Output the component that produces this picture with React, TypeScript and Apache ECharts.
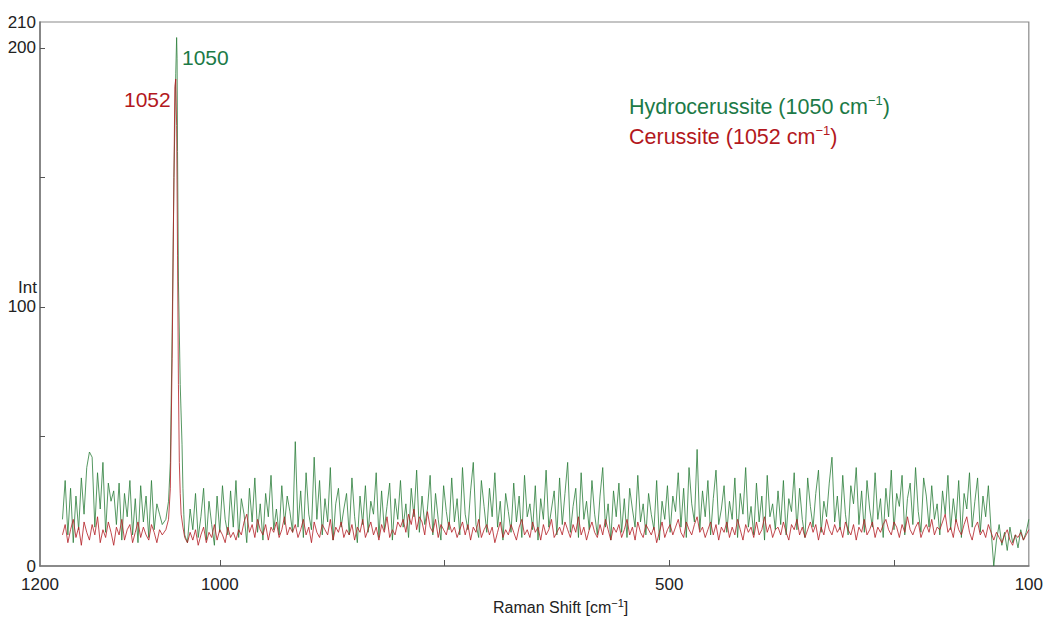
import React, { useEffect, useRef } from "react";
import * as echarts from "echarts";

// x grid for the hand-read noise segments (cm-1)
const leftStart = 1175;
const rightStart = 1039;
const gridStep = 3;

const greenLeft = [18,33,12,30,9,27,14,34,20,38,44,42,15,36,22,40,13,32,25,29,16,32,10,28,19,33,12,26,9,31,17,27,11,33,14,24,20,16];
const redLeft = [12,16,9,14,18,11,15,8,17,13,10,16,12,19,9,14,11,17,13,8,15,12,18,10,14,16,9,13,17,11,15,12,10,16,13,9,14,12];

const greenPeak: [number, number][] = [[1060,18],[1057,25],[1055,40],[1053,90],[1051,150],[1049,190],[1048,204],[1047.5,196],[1047,160],[1046,110],[1044,70],[1042,47],[1041,30],[1040,20]];
const redPeak: [number, number][] = [[1060,14],[1057,18],[1055,30],[1053,80],[1051,150],[1050,185],[1049,188],[1048,170],[1047,120],[1046,70],[1045,40],[1044,28],[1043,20],[1041,15]];

const greenRight = [
  12,9,22,14,28,11,19,30,10,25,16,8,27,13,31,18,12,29,15,33,
  11,26,20,9,30,17,34,13,24,10,28,19,35,14,22,12,31,16,27,21,
  13,48,15,29,11,36,20,14,42,18,33,12,26,17,38,10,24,30,15,22,
  28,12,34,19,9,27,16,31,13,25,20,36,11,29,14,23,32,10,26,18,
  33,15,24,11,30,19,37,13,27,16,22,35,12,28,18,10,31,21,14,34,
  17,26,12,38,20,14,29,40,16,11,33,23,13,30,19,36,15,25,10,28,
  21,13,32,17,27,11,35,19,24,14,31,10,26,18,37,15,22,29,12,34,
  16,28,40,13,23,30,11,36,18,25,14,33,20,12,27,38,15,24,10,29,
  19,32,13,26,11,30,22,15,35,17,24,12,28,20,14,33,10,25,18,31,
  13,27,21,36,15,30,11,38,24,17,45,14,29,19,33,12,26,37,16,22,
  31,13,25,18,34,11,28,20,38,15,23,12,32,17,27,10,35,19,24,14,
  29,16,33,12,26,21,36,14,30,18,11,34,23,15,28,37,13,25,19,32,
  42,17,27,14,35,20,12,31,24,38,16,29,13,33,22,15,36,18,26,11,
  30,19,37,14,28,23,35,12,26,32,16,38,21,13,34,27,15,31,18,24,
  12,29,20,35,14,26,17,33,11,28,22,36,15,25,34,13,27,19,31,14,
  0,10,16,8,13,6,15,9,12,7,14,10,13,18,
];

const redRight = [
  11,9,13,10,14,8,12,15,9,13,11,16,10,14,12,9,15,11,13,10,
  14,12,17,20,13,16,11,18,14,12,16,10,15,13,17,11,14,19,12,15,
  13,16,11,14,18,12,15,9,17,13,11,16,14,12,18,10,15,13,17,11,
  14,12,16,10,15,13,18,11,14,17,12,15,10,16,13,19,11,14,12,17,
  15,18,13,20,16,22,14,19,17,12,21,15,13,18,11,16,14,12,17,13,
  15,11,14,17,12,16,10,15,13,18,11,14,16,12,15,9,13,17,11,14,
  12,16,13,10,15,18,12,14,11,17,13,15,10,16,12,14,18,11,13,15,
  12,17,14,11,16,13,19,12,15,10,14,17,13,11,16,12,18,14,10,15,
  13,16,11,14,18,12,15,10,17,13,11,16,14,12,15,9,13,17,11,14,
  16,12,15,18,13,11,17,14,12,16,19,13,15,11,14,17,12,16,10,15,
  13,17,11,15,12,18,14,10,16,13,15,11,17,12,14,19,13,16,11,14,
  15,12,17,13,10,16,14,18,12,15,11,14,17,13,16,10,15,12,18,14,
  12,16,13,15,11,17,14,12,16,10,15,13,18,12,14,17,11,15,13,16,
  18,14,12,17,15,11,16,13,19,14,12,15,17,11,14,16,13,18,12,15,
  14,17,20,13,15,11,18,14,12,16,19,13,10,15,17,12,14,11,16,13,
  10,13,11,9,12,14,10,8,12,11,13,10,12,14,
];

const xLabelValues = [1200, 1000, 500, 100];
const xTickValues = [1000, 750, 500, 250];
const yLabelValues = [0, 100, 200, 210];
const yTickValues = [50, 100, 150, 200];

const GREEN_LINE = "#2b7d3a";
const RED_LINE = "#b31c22";
const GREEN_TEXT = "#1c7a47";
const RED_TEXT = "#b3181d";
const FONT = "Liberation Sans, Arial, sans-serif";

function build(left: number[], peak: [number, number][], right: number[]) {
  const out: [number, number][] = [];
  left.forEach((v, i) => out.push([leftStart - gridStep * i, v]));
  peak.forEach((p) => out.push(p));
  right.forEach((v, i) => out.push([rightStart - gridStep * i, v]));
  return out;
}

export default function App() {
  const ref = useRef<HTMLDivElement>(null);
  useEffect(() => {
    if (!ref.current) return;
    const chart = echarts.init(ref.current, null, { renderer: "svg" });
    const supRich = (color: string, size: number, supSize: number) => ({
      n: { fontSize: size, fontFamily: FONT, fill: color, lineHeight: size + 4 },
      sup: { fontSize: supSize, fontFamily: FONT, fill: color, verticalAlign: "top", lineHeight: supSize + 2 },
    });
    chart.setOption({
      animation: false,
      backgroundColor: "#ffffff",
      grid: {
        left: 40,
        right: 13,
        top: 22,
        bottom: 54,
        show: true,
        borderColor: "#8a8a8a",
        borderWidth: 1.2,
      },
      xAxis: {
        type: "value",
        inverse: true,
        min: 100,
        max: 1200,
        splitLine: { show: false },
        axisLine: { lineStyle: { color: "#777", width: 1.5 } },
        axisTick: { customValues: xTickValues, inside: true, length: 6, lineStyle: { color: "#555" } },
        axisLabel: {
          customValues: xLabelValues,
          formatter: (v: number) => String(v),
          fontSize: 17,
          color: "#222",
          fontFamily: FONT,
          margin: 10,
        },
      },
      yAxis: {
        type: "value",
        min: 0,
        max: 210,
        splitLine: { show: false },
        axisLine: { show: true, lineStyle: { color: "#777", width: 1.5 } },
        axisTick: { show: true, customValues: yTickValues, inside: true, length: 5, lineStyle: { color: "#555" } },
        axisLabel: {
          customValues: yLabelValues,
          formatter: (v: number) => String(v),
          fontSize: 17,
          color: "#222",
          fontFamily: FONT,
          margin: 4,
        },
      },
      series: [
        {
          name: "Hydrocerussite",
          type: "line",
          data: build(greenLeft, greenPeak, greenRight),
          showSymbol: false,
          lineStyle: { color: GREEN_LINE, width: 0.8 },
          z: 2,
        },
        {
          name: "Cerussite",
          type: "line",
          data: build(redLeft, redPeak, redRight),
          showSymbol: false,
          lineStyle: { color: RED_LINE, width: 0.8 },
          z: 3,
        },
      ],
      graphic: [
        {
          type: "text",
          left: 182,
          top: 47,
          style: { text: "1050", fontSize: 21, fontFamily: FONT, fill: GREEN_TEXT },
        },
        {
          type: "text",
          left: 124,
          top: 89,
          style: { text: "1052", fontSize: 21, fontFamily: FONT, fill: RED_TEXT },
        },
        {
          type: "text",
          left: 629,
          top: 94,
          style: {
            text: "{n|Hydrocerussite (1050 cm}{sup|−1}{n|)}",
            rich: supRich(GREEN_TEXT, 21.5, 13),
          },
        },
        {
          type: "text",
          left: 629,
          top: 124,
          style: {
            text: "{n|Cerussite (1052 cm}{sup|−1}{n|)}",
            rich: supRich(RED_TEXT, 21.5, 13),
          },
        },
        {
          type: "text",
          left: 493,
          top: 597,
          style: {
            text: "{n|Raman Shift [cm}{sup|−1}{n|]}",
            rich: supRich("#222", 16, 11),
          },
        },
        {
          type: "text",
          right: 1046 - 37,
          top: 279,
          style: { text: "Int", fontSize: 17, fontFamily: FONT, fill: "#222" },
        },
      ],
    });
    return () => chart.dispose();
  }, []);
  return <div ref={ref} style={{ position: "fixed", left: 0, top: 0, width: 1046, height: 620 }} />;
}
